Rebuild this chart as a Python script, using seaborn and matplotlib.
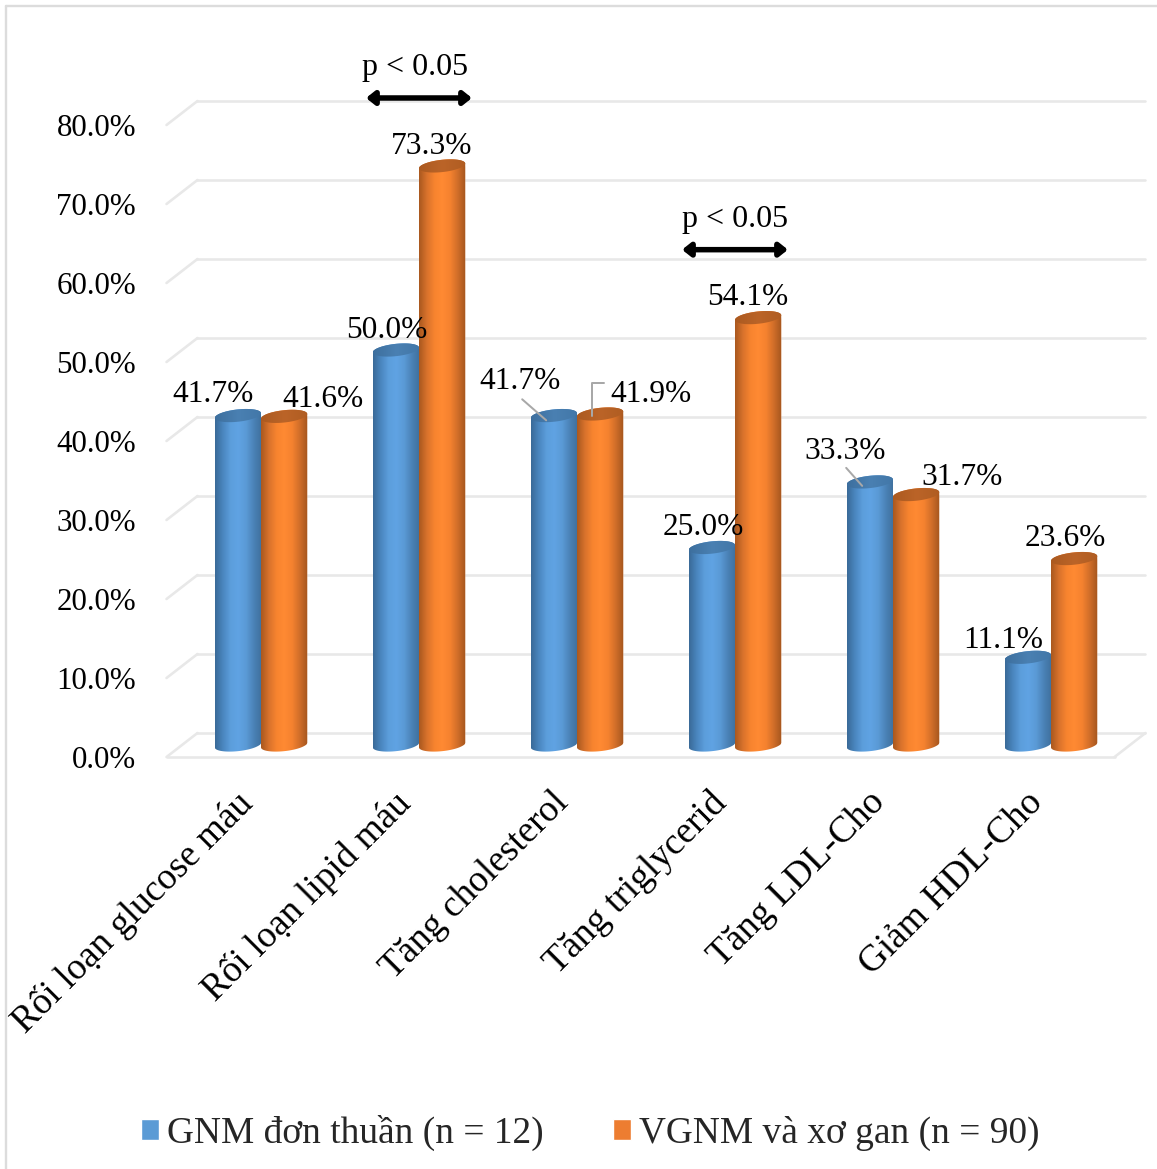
import numpy as np
import pandas as pd
import matplotlib
matplotlib.use("Agg")
import matplotlib.pyplot as plt
from matplotlib.colors import LinearSegmentedColormap
from matplotlib.patches import Polygon
from matplotlib.transforms import ScaledTranslation
import seaborn as sns

categories = ["Rối loạn glucose máu", "Rối loạn lipid máu", "Tăng cholesterol",
              "Tăng triglycerid", "Tăng LDL-Cho", "Giảm HDL-Cho"]
series_names = ["GNM đơn thuần (n = 12)", "VGNM và xơ gan (n = 90)"]
gnm_values = [41.7, 50.0, 41.7, 25.0, 33.3, 11.1]
vgnm_values = [41.6, 73.3, 41.9, 54.1, 31.7, 23.6]
y_ticks = [0, 10, 20, 30, 40, 50, 60, 70, 80]
significant_groups = [1, 3]
significance_text = "p < 0.05"

W, H = 1157, 1169
DPI = 100
PX = 72 / DPI

sns.set_theme(style="white")
plt.rcParams["font.family"] = ["Liberation Serif", "DejaVu Serif"]

fig = plt.figure(figsize=(W / DPI, H / DPI), dpi=DPI, facecolor="white")
ax = fig.add_axes([182 / W, (H - 745) / H, 948 / W, 632 / H])
ax.patch.set_alpha(0)

df = pd.DataFrame({
    "category": categories * 2,
    "series": [series_names[0]] * 6 + [series_names[1]] * 6,
    "value": gnm_values + vgnm_values,
})
base_colors = ["#5B9BD5", "#ED7D31"]
sns.barplot(data=df, x="category", y="value", hue="series", hue_order=series_names,
            palette=base_colors, saturation=1, width=0.585, gap=0, dodge=True, ax=ax,
            zorder=3, errorbar=None)
ax.set_xlim(-0.5, 5.5)
ax.set_ylim(0, 80)
ax.set_autoscale_on(False)
ax.set_xlabel("")
ax.set_ylabel("")
for spine in ax.spines.values():
    spine.set_visible(False)

# Floor and back-wall grid: depth offset expressed in data units
depth_x, depth_y = 0.098, 1.52
grid_kw = dict(color="#e8e8e8", lw=2.6 * PX, clip_on=False, zorder=1, solid_capstyle="round")
for v in y_ticks:
    ax.plot([-0.5 + depth_x, 5.5 + depth_x], [v + depth_y, v + depth_y], **grid_kw)
    ax.plot([-0.5 - depth_x, -0.5 + depth_x], [v - depth_y, v + depth_y], **grid_kw)
ax.plot([-0.5 - depth_x, 5.5 - depth_x], [-depth_y, -depth_y], **grid_kw)
ax.plot([5.5 - depth_x, 5.5 + depth_x], [-depth_y, depth_y], **grid_kw)

# Tick labels sit on the front plane of the 3D box
ax.set_yticks(y_ticks)
ax.set_yticklabels([f"{v:.1f}%" for v in y_ticks])
ax.tick_params(axis="y", length=0, pad=46 * PX, labelsize=22.3, colors="black")
down = ScaledTranslation(0, -12 / DPI, fig.dpi_scale_trans)
for lab in ax.get_yticklabels():
    lab.set_transform(lab.get_transform() + down)

ax.set_xticks(range(6))
ax.set_xticklabels(categories, rotation=45, ha="right", va="top", rotation_mode="anchor",
                   fontsize=26.8, color="black")
ax.tick_params(axis="x", length=0, pad=40 * PX)
shift = ScaledTranslation(-26 / DPI, 0, fig.dpi_scale_trans)
for lab in ax.get_xticklabels():
    lab.set_transform(lab.get_transform() + shift)

# Cylinder shading
body_cmaps = [
    LinearSegmentedColormap.from_list("b", ["#3a6a98", "#4a86bf", "#5c9edc", "#60a3e3", "#5a9ad6", "#4a82b6", "#3f6f9c"]),
    LinearSegmentedColormap.from_list("o", ["#a9581f", "#d8722c", "#f8842f", "#ff8a33", "#f5822f", "#cf6d29", "#a4561e"]),
]
cap_cmaps = [
    LinearSegmentedColormap.from_list("bc", ["#3d6f9e", "#4a80b2", "#4277a8"]),
    LinearSegmentedColormap.from_list("oc", ["#ab5a20", "#bb6428", "#b05d22"]),
]
semi_minor, shear = 0.78, 0.3
ramp = np.linspace(0, 1, 128).reshape(1, -1)
t_low = np.linspace(np.pi, 2 * np.pi, 60)
t_up = np.linspace(0, np.pi, 60)


def ring(cx, half, level, t):
    c = np.cos(t)
    return np.column_stack([cx + half * c, level + semi_minor * np.sin(t) + shear * c])


for s, container in enumerate(ax.containers):
    for rect in container:
        x0, w, v = rect.get_x(), rect.get_width(), rect.get_height()
        cx, half = x0 + w / 2, w / 2
        body = Polygon(np.vstack([ring(cx, half, 0, t_low), ring(cx, half, v, t_up)]),
                       closed=True, transform=ax.transData, facecolor="none", edgecolor="none")
        ax.add_patch(body)
        body.set_clip_on(False)
        rect.set_clip_path(body)
        rect.set_clip_box(fig.bbox)
        rect.set_zorder(3 + s)
        img = ax.imshow(ramp, extent=[x0, x0 + w, -3, v + 3], cmap=body_cmaps[s], aspect="auto",
                        interpolation="bilinear", zorder=3.1 + s)
        img.set_clip_path(body)
        img.set_clip_box(fig.bbox)
        cap = Polygon(np.vstack([ring(cx, half, v, t_low), ring(cx, half, v, t_up)]),
                      closed=True, transform=ax.transData, facecolor="none", edgecolor="none")
        ax.add_patch(cap)
        cap_img = ax.imshow(ramp, extent=[x0, x0 + w, v - 3, v + 3], cmap=cap_cmaps[s], aspect="auto",
                            interpolation="bilinear", zorder=3.2 + s)
        cap_img.set_clip_path(cap)
        cap_img.set_clip_box(fig.bbox)
ax.set_xlim(-0.5, 5.5)
ax.set_ylim(0, 80)

# Value labels, placed in pixel offsets from each bar's top
label_offsets = [
    [(-25, 21), (-9, 19), (-34, 34), (-9, 20), (-25, 30), (-25, 17)],
    [(39, 17), (-10, 19), (51, 19), (-10, 20), (46, 17), (-9, 20)],
]
for s, (vals, offs) in enumerate(zip([gnm_values, vgnm_values], label_offsets)):
    for i, (v, (dx, dy)) in enumerate(zip(vals, offs)):
        x = i + (-0.145 if s == 0 else 0.145)
        ax.annotate(f"{v:.1f}%", (x, v), xytext=(dx * PX, dy * PX), textcoords="offset points",
                    ha="center", va="center", fontsize=22.6, color="black", zorder=8,
                    annotation_clip=False)

# Leader lines from displaced labels to their cylinders
leader_kw = dict(xycoords="data", textcoords="offset points", annotation_clip=False, zorder=7)
gray_line = dict(arrowstyle="-", color="#a8a8a8", lw=2 * PX, shrinkA=0, shrinkB=0)
ax.annotate("", (2 - 0.195, gnm_values[2] - 0.6), xytext=(-24 * PX, 21 * PX), arrowprops=gray_line, **leader_kw)
ax.annotate("", (4 - 0.195, gnm_values[4] - 0.5), xytext=(-16 * PX, 18 * PX), arrowprops=gray_line, **leader_kw)
ax.plot([2 + 0.095, 2 + 0.095, 2 + 0.17], [vgnm_values[2] - 0.3, vgnm_values[2] + 3.9, vgnm_values[2] + 3.9],
        color="#a8a8a8", lw=2 * PX, clip_on=False, zorder=7)

# Significance markers
for g, level, text_dx in zip(significant_groups, [81.9, 62.7], [-4, 0]):
    ax.annotate("", (g - 0.335, level), xytext=(g + 0.335, level), xycoords="data", textcoords="data",
                arrowprops=dict(arrowstyle="<|-|>,head_length=0.4,head_width=0.32", color="black",
                                lw=5.5 * PX, shrinkA=0, shrinkB=0),
                annotation_clip=False, zorder=9)
    ax.annotate(significance_text, (g, level), xytext=(text_dx * PX, 30.5 * PX), textcoords="offset points",
                ha="center", va="center", fontsize=23, color="black", annotation_clip=False, zorder=9)

# Legend below the chart
sns.move_legend(ax, "center", bbox_to_anchor=(590 / W, (H - 1133) / H), bbox_transform=fig.transFigure,
                ncols=2, frameon=False, title=None, fontsize=26.9, handlelength=0.5, handleheight=0.5,
                handletextpad=0.2, columnspacing=1.85, borderpad=0, borderaxespad=0)

# Chart frame along the top and left edges
fig.add_artist(plt.Line2D([6 / W, 1], [(H - 6) / H, (H - 6) / H], color="#dcdcdc", lw=2.4 * PX,
                          transform=fig.transFigure))
fig.add_artist(plt.Line2D([6 / W, 6 / W], [0, (H - 6) / H], color="#dcdcdc", lw=2.4 * PX,
                          transform=fig.transFigure))

fig.savefig("out.png", dpi=DPI)
